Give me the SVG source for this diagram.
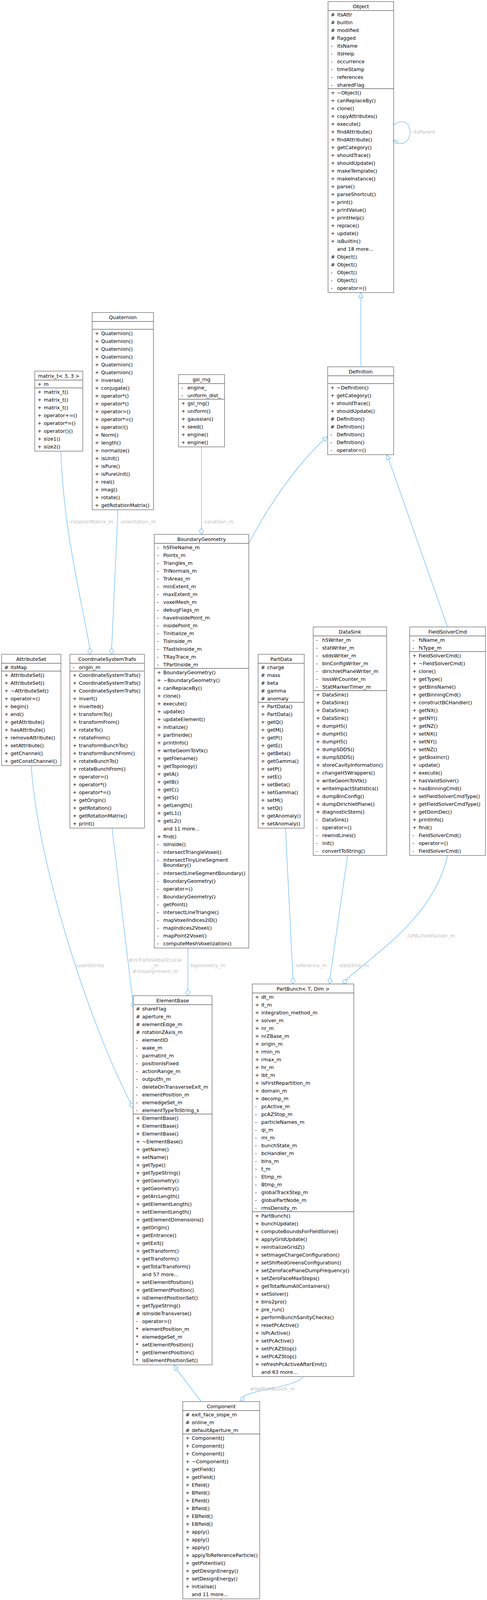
<svg xmlns="http://www.w3.org/2000/svg" width="1247" height="4493" viewBox="0 0 1247 4493">
<style>
.box{fill:#fff;stroke:#666;stroke-width:1.3}
.drift{fill:#999;stroke:#666;stroke-width:1.3}
.sep{stroke:#666;stroke-width:1.3}
text{font-family:"DejaVu Sans","Liberation Sans",sans-serif;font-size:12.7px;fill:#000}
.t{text-anchor:middle}
.edge{fill:none;stroke:#63b8ff;stroke-width:1.3}
.dia{fill:#fff;stroke:#63b8ff;stroke-width:1.3}
.lbl{fill:#c0c0c0}
.lc{fill:#c0c0c0;text-anchor:middle}
</style>
<rect width="1247" height="4493" fill="#fff"/>
<g id="connectors">
<path class="edge" d="M156,1155 C162,1350 205,1520 230,1659"/>
<polygon class="dia" points="230,1675 224.5,1667 230,1659 235.5,1667"/>
<path class="edge" d="M302,1305 L286,1659"/>
<polygon class="dia" points="286,1675 280.5,1667 286,1659 291.5,1667"/>
<path class="edge" d="M516,1145 L516,1352"/>
<polygon class="dia" points="516,1368 510.5,1360 516,1352 521.5,1360"/>
<path class="edge" d="M637,1391 C690,1290 760,1190 829.3,1125.7"/>
<polygon class="dia" points="839,1117 833,1129.8 825.6,1121.6"/>
<path class="edge" d="M1146,1605 L995,1175"/>
<polygon class="dia" points="990,1164 1000.1,1173 990,1177.5"/>
<path class="edge" d="M287,2120 L340.1,2564.1"/>
<polygon class="dia" points="342,2580 346.6,2571.4 340.1,2564.1 335.6,2572.6"/>
<path class="edge" d="M80,1960 C95,2200 220,2600 333.7,2821.8"/>
<polygon class="dia" points="341,2836 342.2,2826.4 333.7,2821.8 332.4,2831.4"/>
<path class="edge" d="M481,2427 L481,2533"/>
<polygon class="dia" points="481,2549 475.5,2541 481,2533 486.5,2541"/>
<path class="edge" d="M731,2120 L750,2503"/>
<polygon class="dia" points="750,2519 744.5,2511 750,2503 755.5,2511"/>
<path class="edge" d="M890,2190 L845,2503"/>
<polygon class="dia" points="844,2519 839.5,2510 845,2503 850.5,2511"/>
<path class="edge" d="M1146,2190 C1110,2350 960,2440 888,2507"/>
<polygon class="dia" points="878,2519 879,2509 888,2507 887.5,2516"/>
<path class="edge" d="M776,3524 C760,3550 660,3555 625,3574"/>
<polygon class="dia" points="616,3588 617.5,3578 625,3574 624.5,3584"/>
<path class="edge" d="M515,3588 L452,3505"/>
<polygon class="dia" points="445,3494 456.9,3501.9 448.2,3508.5"/>
<path class="edge" d="M566,4142 L566,4106"/>
<polygon class="dia" points="566,4093 560.5,4106 571.5,4106"/>
<path class="edge" d="M1008,320 C1035,300 1050,318 1050,338 C1050,358 1035,372 1020,366"/>
<polygon class="dia" points="1008,360 1014,358.5 1020,366 1014,367.5"/>
<text class="lbl" x="1054" y="342">-itsParent</text>
<text class="lbl" x="177" y="1340">-rotationMatrix_m</text>
<text class="lbl" x="306" y="1340">-orientation_m</text>
<text class="lbl" x="520" y="1340">-randGen_m</text>
<text class="lc" x="397" y="2462">#csTrafoGlobal2Local</text>
<text class="lc" x="397" y="2476">_m</text>
<text class="lc" x="397" y="2491">#misalignment_m</text>
<text class="lbl" x="193" y="2476">-userAttribs</text>
<text class="lbl" x="484" y="2476">-bgeometry_m</text>
<text class="lbl" x="753" y="2476">-reference_m</text>
<text class="lbl" x="866" y="2476">-dataSink_m</text>
<text class="lbl" x="1040" y="2400">-OPALFieldSolver_m</text>
<text class="lbl" x="640" y="3560">#RefPartBunch_m</text>
</g>

<g id="Object">
<rect class="box" x="840" y="4" width="168" height="745"/>
<text class="t" x="924" y="20.5">Object</text>
<line class="sep" x1="840" y1="27" x2="1008" y2="27"/>
<line class="sep" x1="840" y1="227" x2="1008" y2="227"/>
<text y="41.5"><tspan x="847">#</tspan><tspan x="863">itsAttr</tspan></text>
<text y="61.5"><tspan x="847">#</tspan><tspan x="863">builtin</tspan></text>
<text y="81.5"><tspan x="847">#</tspan><tspan x="863">modified</tspan></text>
<text y="101.5"><tspan x="847">#</tspan><tspan x="863">flagged</tspan></text>
<text y="121.5"><tspan x="847">-</tspan><tspan x="863">itsName</tspan></text>
<text y="141.5"><tspan x="847">-</tspan><tspan x="863">itsHelp</tspan></text>
<text y="161.5"><tspan x="847">-</tspan><tspan x="863">occurrence</tspan></text>
<text y="181.5"><tspan x="847">-</tspan><tspan x="863">timeStamp</tspan></text>
<text y="201.5"><tspan x="847">-</tspan><tspan x="863">references</tspan></text>
<text y="221.5"><tspan x="847">-</tspan><tspan x="863">sharedFlag</tspan></text>
<text y="241.5"><tspan x="847">+</tspan><tspan x="863">~Object()</tspan></text>
<text y="261.5"><tspan x="847">+</tspan><tspan x="863">canReplaceBy()</tspan></text>
<text y="281.5"><tspan x="847">+</tspan><tspan x="863">clone()</tspan></text>
<text y="301.5"><tspan x="847">+</tspan><tspan x="863">copyAttributes()</tspan></text>
<text y="321.5"><tspan x="847">+</tspan><tspan x="863">execute()</tspan></text>
<text y="341.5"><tspan x="847">+</tspan><tspan x="863">findAttribute()</tspan></text>
<text y="361.5"><tspan x="847">+</tspan><tspan x="863">findAttribute()</tspan></text>
<text y="381.5"><tspan x="847">+</tspan><tspan x="863">getCategory()</tspan></text>
<text y="401.5"><tspan x="847">+</tspan><tspan x="863">shouldTrace()</tspan></text>
<text y="421.5"><tspan x="847">+</tspan><tspan x="863">shouldUpdate()</tspan></text>
<text y="441.5"><tspan x="847">+</tspan><tspan x="863">makeTemplate()</tspan></text>
<text y="461.5"><tspan x="847">+</tspan><tspan x="863">makeInstance()</tspan></text>
<text y="481.5"><tspan x="847">+</tspan><tspan x="863">parse()</tspan></text>
<text y="501.5"><tspan x="847">+</tspan><tspan x="863">parseShortcut()</tspan></text>
<text y="521.5"><tspan x="847">+</tspan><tspan x="863">print()</tspan></text>
<text y="541.5"><tspan x="847">+</tspan><tspan x="863">printValue()</tspan></text>
<text y="561.5"><tspan x="847">+</tspan><tspan x="863">printHelp()</tspan></text>
<text y="581.5"><tspan x="847">+</tspan><tspan x="863">replace()</tspan></text>
<text y="601.5"><tspan x="847">+</tspan><tspan x="863">update()</tspan></text>
<text y="621.5"><tspan x="847">+</tspan><tspan x="863">isBuiltin()</tspan></text>
<text x="863" y="641.5">and 18 more...</text>
<text y="661.5"><tspan x="847">#</tspan><tspan x="863">Object()</tspan></text>
<text y="681.5"><tspan x="847">#</tspan><tspan x="863">Object()</tspan></text>
<text y="701.5"><tspan x="847">-</tspan><tspan x="863">Object()</tspan></text>
<text y="721.5"><tspan x="847">-</tspan><tspan x="863">Object()</tspan></text>
<text y="741.5"><tspan x="847">-</tspan><tspan x="863">operator=()</tspan></text>
</g>

<g id="Definition">
<rect class="box" x="839" y="939" width="169" height="225"/>
<text class="t" x="923.5" y="955.5">Definition</text>
<line class="sep" x1="839" y1="962" x2="1008" y2="962"/>
<line class="sep" x1="839" y1="982" x2="1008" y2="982"/>
<text y="996.5"><tspan x="846">+</tspan><tspan x="862">~Definition()</tspan></text>
<text y="1016.5"><tspan x="846">+</tspan><tspan x="862">getCategory()</tspan></text>
<text y="1036.5"><tspan x="846">+</tspan><tspan x="862">shouldTrace()</tspan></text>
<text y="1056.5"><tspan x="846">+</tspan><tspan x="862">shouldUpdate()</tspan></text>
<text y="1076.5"><tspan x="846">#</tspan><tspan x="862">Definition()</tspan></text>
<text y="1096.5"><tspan x="846">#</tspan><tspan x="862">Definition()</tspan></text>
<text y="1116.5"><tspan x="846">-</tspan><tspan x="862">Definition()</tspan></text>
<text y="1136.5"><tspan x="846">-</tspan><tspan x="862">Definition()</tspan></text>
<text y="1156.5"><tspan x="846">-</tspan><tspan x="862">operator=()</tspan></text>
</g>
<path class="edge" d="M924,939 L924,762"/>
<polygon class="dia" points="924,749 918.5,762 929.5,762"/>

<g id="matrix_t">
<rect class="box" x="89" y="950" width="123" height="205"/>
<text class="t" x="150.5" y="966.5">matrix_t&lt; 3, 3 &gt;</text>
<line class="sep" x1="89" y1="973" x2="212" y2="973"/>
<line class="sep" x1="89" y1="993" x2="212" y2="993"/>
<text y="987.5"><tspan x="96">+</tspan><tspan x="112">m</tspan></text>
<text y="1007.5"><tspan x="96">+</tspan><tspan x="112">matrix_t()</tspan></text>
<text y="1027.5"><tspan x="96">+</tspan><tspan x="112">matrix_t()</tspan></text>
<text y="1047.5"><tspan x="96">+</tspan><tspan x="112">matrix_t()</tspan></text>
<text y="1067.5"><tspan x="96">+</tspan><tspan x="112">operator+=()</tspan></text>
<text y="1087.5"><tspan x="96">+</tspan><tspan x="112">operator*=()</tspan></text>
<text y="1107.5"><tspan x="96">+</tspan><tspan x="112">operator()()</tspan></text>
<text y="1127.5"><tspan x="96">+</tspan><tspan x="112">size1()</tspan></text>
<text y="1147.5"><tspan x="96">+</tspan><tspan x="112">size2()</tspan></text>
</g>

<g id="Quaternion">
<rect class="box" x="236" y="800" width="157" height="505"/>
<text class="t" x="314.5" y="816.5">Quaternion</text>
<line class="sep" x1="236" y1="823" x2="393" y2="823"/>
<line class="sep" x1="236" y1="843" x2="393" y2="843"/>
<text y="857.5"><tspan x="243">+</tspan><tspan x="259">Quaternion()</tspan></text>
<text y="877.5"><tspan x="243">+</tspan><tspan x="259">Quaternion()</tspan></text>
<text y="897.5"><tspan x="243">+</tspan><tspan x="259">Quaternion()</tspan></text>
<text y="917.5"><tspan x="243">+</tspan><tspan x="259">Quaternion()</tspan></text>
<text y="937.5"><tspan x="243">+</tspan><tspan x="259">Quaternion()</tspan></text>
<text y="957.5"><tspan x="243">+</tspan><tspan x="259">Quaternion()</tspan></text>
<text y="977.5"><tspan x="243">+</tspan><tspan x="259">inverse()</tspan></text>
<text y="997.5"><tspan x="243">+</tspan><tspan x="259">conjugate()</tspan></text>
<text y="1017.5"><tspan x="243">+</tspan><tspan x="259">operator*()</tspan></text>
<text y="1037.5"><tspan x="243">+</tspan><tspan x="259">operator*()</tspan></text>
<text y="1057.5"><tspan x="243">+</tspan><tspan x="259">operator=()</tspan></text>
<text y="1077.5"><tspan x="243">+</tspan><tspan x="259">operator*=()</tspan></text>
<text y="1097.5"><tspan x="243">+</tspan><tspan x="259">operator/()</tspan></text>
<text y="1117.5"><tspan x="243">+</tspan><tspan x="259">Norm()</tspan></text>
<text y="1137.5"><tspan x="243">+</tspan><tspan x="259">length()</tspan></text>
<text y="1157.5"><tspan x="243">+</tspan><tspan x="259">normalize()</tspan></text>
<text y="1177.5"><tspan x="243">+</tspan><tspan x="259">isUnit()</tspan></text>
<text y="1197.5"><tspan x="243">+</tspan><tspan x="259">isPure()</tspan></text>
<text y="1217.5"><tspan x="243">+</tspan><tspan x="259">isPureUnit()</tspan></text>
<text y="1237.5"><tspan x="243">+</tspan><tspan x="259">real()</tspan></text>
<text y="1257.5"><tspan x="243">+</tspan><tspan x="259">imag()</tspan></text>
<text y="1277.5"><tspan x="243">+</tspan><tspan x="259">rotate()</tspan></text>
<text y="1297.5"><tspan x="243">+</tspan><tspan x="259">getRotationMatrix()</tspan></text>
</g>

<g id="gsl_rng">
<rect class="box" x="457" y="959" width="118" height="185"/>
<text class="t" x="516" y="975.5">gsl_rng</text>
<line class="sep" x1="457" y1="982" x2="575" y2="982"/>
<line class="sep" x1="457" y1="1022" x2="575" y2="1022"/>
<text y="996.5"><tspan x="464">-</tspan><tspan x="480">engine_</tspan></text>
<text y="1016.5"><tspan x="464">-</tspan><tspan x="480">uniform_dist_</tspan></text>
<text y="1036.5"><tspan x="464">+</tspan><tspan x="480">gsl_rng()</tspan></text>
<text y="1056.5"><tspan x="464">+</tspan><tspan x="480">uniform()</tspan></text>
<text y="1076.5"><tspan x="464">+</tspan><tspan x="480">gaussian()</tspan></text>
<text y="1096.5"><tspan x="464">+</tspan><tspan x="480">seed()</tspan></text>
<text y="1116.5"><tspan x="464">+</tspan><tspan x="480">engine()</tspan></text>
<text y="1136.5"><tspan x="464">+</tspan><tspan x="480">engine()</tspan></text>
</g>

<g id="BoundaryGeometry">
<rect class="box" x="395" y="1368" width="242" height="1059"/>
<text class="t" x="516" y="1384.5">BoundaryGeometry</text>
<line class="sep" x1="395" y1="1391" x2="637" y2="1391"/>
<line class="sep" x1="395" y1="1711" x2="637" y2="1711"/>
<text y="1405.5"><tspan x="402">-</tspan><tspan x="418">h5FileName_m</tspan></text>
<text y="1425.5"><tspan x="402">-</tspan><tspan x="418">Points_m</tspan></text>
<text y="1445.5"><tspan x="402">-</tspan><tspan x="418">Triangles_m</tspan></text>
<text y="1465.5"><tspan x="402">-</tspan><tspan x="418">TriNormals_m</tspan></text>
<text y="1485.5"><tspan x="402">-</tspan><tspan x="418">TriAreas_m</tspan></text>
<text y="1505.5"><tspan x="402">-</tspan><tspan x="418">minExtent_m</tspan></text>
<text y="1525.5"><tspan x="402">-</tspan><tspan x="418">maxExtent_m</tspan></text>
<text y="1545.5"><tspan x="402">-</tspan><tspan x="418">voxelMesh_m</tspan></text>
<text y="1565.5"><tspan x="402">-</tspan><tspan x="418">debugFlags_m</tspan></text>
<text y="1585.5"><tspan x="402">-</tspan><tspan x="418">haveInsidePoint_m</tspan></text>
<text y="1605.5"><tspan x="402">-</tspan><tspan x="418">insidePoint_m</tspan></text>
<text y="1625.5"><tspan x="402">-</tspan><tspan x="418">Tinitialize_m</tspan></text>
<text y="1645.5"><tspan x="402">-</tspan><tspan x="418">TisInside_m</tspan></text>
<text y="1665.5"><tspan x="402">-</tspan><tspan x="418">TfastIsInside_m</tspan></text>
<text y="1685.5"><tspan x="402">-</tspan><tspan x="418">TRayTrace_m</tspan></text>
<text y="1705.5"><tspan x="402">-</tspan><tspan x="418">TPartInside_m</tspan></text>
<text y="1725.5"><tspan x="402">+</tspan><tspan x="418">BoundaryGeometry()</tspan></text>
<text y="1745.5"><tspan x="402">+</tspan><tspan x="418">~BoundaryGeometry()</tspan></text>
<text y="1765.5"><tspan x="402">+</tspan><tspan x="418">canReplaceBy()</tspan></text>
<text y="1785.5"><tspan x="402">+</tspan><tspan x="418">clone()</tspan></text>
<text y="1805.5"><tspan x="402">+</tspan><tspan x="418">execute()</tspan></text>
<text y="1825.5"><tspan x="402">+</tspan><tspan x="418">update()</tspan></text>
<text y="1845.5"><tspan x="402">+</tspan><tspan x="418">updateElement()</tspan></text>
<text y="1865.5"><tspan x="402">+</tspan><tspan x="418">initialize()</tspan></text>
<text y="1885.5"><tspan x="402">+</tspan><tspan x="418">partInside()</tspan></text>
<text y="1905.5"><tspan x="402">+</tspan><tspan x="418">printInfo()</tspan></text>
<text y="1925.5"><tspan x="402">+</tspan><tspan x="418">writeGeomToVtk()</tspan></text>
<text y="1945.5"><tspan x="402">+</tspan><tspan x="418">getFilename()</tspan></text>
<text y="1965.5"><tspan x="402">+</tspan><tspan x="418">getTopology()</tspan></text>
<text y="1985.5"><tspan x="402">+</tspan><tspan x="418">getA()</tspan></text>
<text y="2005.5"><tspan x="402">+</tspan><tspan x="418">getB()</tspan></text>
<text y="2025.5"><tspan x="402">+</tspan><tspan x="418">getC()</tspan></text>
<text y="2045.5"><tspan x="402">+</tspan><tspan x="418">getS()</tspan></text>
<text y="2065.5"><tspan x="402">+</tspan><tspan x="418">getLength()</tspan></text>
<text y="2085.5"><tspan x="402">+</tspan><tspan x="418">getL1()</tspan></text>
<text y="2105.5"><tspan x="402">+</tspan><tspan x="418">getL2()</tspan></text>
<text x="418" y="2125.5">and 11 more...</text>
<text y="2145.5"><tspan x="402">+</tspan><tspan x="418">find()</tspan></text>
<text y="2165.5"><tspan x="402">-</tspan><tspan x="418">isInside()</tspan></text>
<text y="2185.5"><tspan x="402">-</tspan><tspan x="418">intersectTriangleVoxel()</tspan></text>
<text y="2205.5"><tspan x="402">-</tspan><tspan x="418">intersectTinyLineSegment</tspan></text>
<text x="418" y="2219">Boundary()</text>
<text y="2239.5"><tspan x="402">-</tspan><tspan x="418">intersectLineSegmentBoundary()</tspan></text>
<text y="2259.5"><tspan x="402">-</tspan><tspan x="418">BoundaryGeometry()</tspan></text>
<text y="2279.5"><tspan x="402">-</tspan><tspan x="418">operator=()</tspan></text>
<text y="2299.5"><tspan x="402">-</tspan><tspan x="418">BoundaryGeometry()</tspan></text>
<text y="2319.5"><tspan x="402">-</tspan><tspan x="418">getPoint()</tspan></text>
<text y="2339.5"><tspan x="402">-</tspan><tspan x="418">intersectLineTriangle()</tspan></text>
<text y="2359.5"><tspan x="402">-</tspan><tspan x="418">mapVoxelIndices2ID()</tspan></text>
<text y="2379.5"><tspan x="402">-</tspan><tspan x="418">mapIndices2Voxel()</tspan></text>
<text y="2399.5"><tspan x="402">-</tspan><tspan x="418">mapPoint2Voxel()</tspan></text>
<text y="2419.5"><tspan x="402">-</tspan><tspan x="418">computeMeshVoxelization()</tspan></text>
</g>

<g id="AttributeSet">
<rect class="box" x="4" y="1675" width="152" height="285"/>
<text class="t" x="80" y="1691.5">AttributeSet</text>
<line class="sep" x1="4" y1="1698" x2="156" y2="1698"/>
<line class="sep" x1="4" y1="1718" x2="156" y2="1718"/>
<text y="1712.5"><tspan x="11">#</tspan><tspan x="27">itsMap</tspan></text>
<text y="1732.5"><tspan x="11">+</tspan><tspan x="27">AttributeSet()</tspan></text>
<text y="1752.5"><tspan x="11">+</tspan><tspan x="27">AttributeSet()</tspan></text>
<text y="1772.5"><tspan x="11">+</tspan><tspan x="27">~AttributeSet()</tspan></text>
<text y="1792.5"><tspan x="11">+</tspan><tspan x="27">operator=()</tspan></text>
<text y="1812.5"><tspan x="11">+</tspan><tspan x="27">begin()</tspan></text>
<text y="1832.5"><tspan x="11">+</tspan><tspan x="27">end()</tspan></text>
<text y="1852.5"><tspan x="11">+</tspan><tspan x="27">getAttribute()</tspan></text>
<text y="1872.5"><tspan x="11">+</tspan><tspan x="27">hasAttribute()</tspan></text>
<text y="1892.5"><tspan x="11">+</tspan><tspan x="27">removeAttribute()</tspan></text>
<text y="1912.5"><tspan x="11">+</tspan><tspan x="27">setAttribute()</tspan></text>
<text y="1932.5"><tspan x="11">+</tspan><tspan x="27">getChannel()</tspan></text>
<text y="1952.5"><tspan x="11">+</tspan><tspan x="27">getConstChannel()</tspan></text>
</g>

<g id="CoordinateSystemTrafo">
<rect class="box" x="179" y="1675" width="191" height="445"/>
<text class="t" x="274.5" y="1691.5">CoordinateSystemTrafo</text>
<line class="sep" x1="179" y1="1698" x2="370" y2="1698"/>
<line class="sep" x1="179" y1="1718" x2="370" y2="1718"/>
<text y="1712.5"><tspan x="186">-</tspan><tspan x="202">origin_m</tspan></text>
<text y="1732.5"><tspan x="186">+</tspan><tspan x="202">CoordinateSystemTrafo()</tspan></text>
<text y="1752.5"><tspan x="186">+</tspan><tspan x="202">CoordinateSystemTrafo()</tspan></text>
<text y="1772.5"><tspan x="186">+</tspan><tspan x="202">CoordinateSystemTrafo()</tspan></text>
<text y="1792.5"><tspan x="186">+</tspan><tspan x="202">invert()</tspan></text>
<text y="1812.5"><tspan x="186">+</tspan><tspan x="202">inverted()</tspan></text>
<text y="1832.5"><tspan x="186">+</tspan><tspan x="202">transformTo()</tspan></text>
<text y="1852.5"><tspan x="186">+</tspan><tspan x="202">transformFrom()</tspan></text>
<text y="1872.5"><tspan x="186">+</tspan><tspan x="202">rotateTo()</tspan></text>
<text y="1892.5"><tspan x="186">+</tspan><tspan x="202">rotateFrom()</tspan></text>
<text y="1912.5"><tspan x="186">+</tspan><tspan x="202">transformBunchTo()</tspan></text>
<text y="1932.5"><tspan x="186">+</tspan><tspan x="202">transformBunchFrom()</tspan></text>
<text y="1952.5"><tspan x="186">+</tspan><tspan x="202">rotateBunchTo()</tspan></text>
<text y="1972.5"><tspan x="186">+</tspan><tspan x="202">rotateBunchFrom()</tspan></text>
<text y="1992.5"><tspan x="186">+</tspan><tspan x="202">operator=()</tspan></text>
<text y="2012.5"><tspan x="186">+</tspan><tspan x="202">operator*()</tspan></text>
<text y="2032.5"><tspan x="186">+</tspan><tspan x="202">operator*=()</tspan></text>
<text y="2052.5"><tspan x="186">+</tspan><tspan x="202">getOrigin()</tspan></text>
<text y="2072.5"><tspan x="186">+</tspan><tspan x="202">getRotation()</tspan></text>
<text y="2092.5"><tspan x="186">+</tspan><tspan x="202">getRotationMatrix()</tspan></text>
<text y="2112.5"><tspan x="186">+</tspan><tspan x="202">print()</tspan></text>
</g>

<g id="PartData">
<rect class="box" x="661" y="1675" width="118" height="445"/>
<text class="t" x="720" y="1691.5">PartData</text>
<line class="sep" x1="661" y1="1698" x2="779" y2="1698"/>
<line class="sep" x1="661" y1="1798" x2="779" y2="1798"/>
<text y="1712.5"><tspan x="668">#</tspan><tspan x="684">charge</tspan></text>
<text y="1732.5"><tspan x="668">#</tspan><tspan x="684">mass</tspan></text>
<text y="1752.5"><tspan x="668">#</tspan><tspan x="684">beta</tspan></text>
<text y="1772.5"><tspan x="668">#</tspan><tspan x="684">gamma</tspan></text>
<text y="1792.5"><tspan x="668">#</tspan><tspan x="684">anomaly</tspan></text>
<text y="1812.5"><tspan x="668">+</tspan><tspan x="684">PartData()</tspan></text>
<text y="1832.5"><tspan x="668">+</tspan><tspan x="684">PartData()</tspan></text>
<text y="1852.5"><tspan x="668">+</tspan><tspan x="684">getQ()</tspan></text>
<text y="1872.5"><tspan x="668">+</tspan><tspan x="684">getM()</tspan></text>
<text y="1892.5"><tspan x="668">+</tspan><tspan x="684">getP()</tspan></text>
<text y="1912.5"><tspan x="668">+</tspan><tspan x="684">getE()</tspan></text>
<text y="1932.5"><tspan x="668">+</tspan><tspan x="684">getBeta()</tspan></text>
<text y="1952.5"><tspan x="668">+</tspan><tspan x="684">getGamma()</tspan></text>
<text y="1972.5"><tspan x="668">+</tspan><tspan x="684">setP()</tspan></text>
<text y="1992.5"><tspan x="668">+</tspan><tspan x="684">setE()</tspan></text>
<text y="2012.5"><tspan x="668">+</tspan><tspan x="684">setBeta()</tspan></text>
<text y="2032.5"><tspan x="668">+</tspan><tspan x="684">setGamma()</tspan></text>
<text y="2052.5"><tspan x="668">+</tspan><tspan x="684">setM()</tspan></text>
<text y="2072.5"><tspan x="668">+</tspan><tspan x="684">setQ()</tspan></text>
<text y="2092.5"><tspan x="668">+</tspan><tspan x="684">getAnomaly()</tspan></text>
<text y="2112.5"><tspan x="668">+</tspan><tspan x="684">setAnomaly()</tspan></text>
</g>

<g id="DataSink">
<rect class="box" x="802" y="1605" width="188" height="585"/>
<text class="t" x="896" y="1621.5">DataSink</text>
<line class="sep" x1="802" y1="1628" x2="990" y2="1628"/>
<line class="sep" x1="802" y1="1768" x2="990" y2="1768"/>
<text y="1642.5"><tspan x="809">-</tspan><tspan x="825">h5Writer_m</tspan></text>
<text y="1662.5"><tspan x="809">-</tspan><tspan x="825">statWriter_m</tspan></text>
<text y="1682.5"><tspan x="809">-</tspan><tspan x="825">sddsWriter_m</tspan></text>
<text y="1702.5"><tspan x="809">-</tspan><tspan x="825">binConfigWriter_m</tspan></text>
<text y="1722.5"><tspan x="809">-</tspan><tspan x="825">dirichletPlaneWriter_m</tspan></text>
<text y="1742.5"><tspan x="809">-</tspan><tspan x="825">lossWrCounter_m</tspan></text>
<text y="1762.5"><tspan x="809">-</tspan><tspan x="825">StatMarkerTimer_m</tspan></text>
<text y="1782.5"><tspan x="809">+</tspan><tspan x="825">DataSink()</tspan></text>
<text y="1802.5"><tspan x="809">+</tspan><tspan x="825">DataSink()</tspan></text>
<text y="1822.5"><tspan x="809">+</tspan><tspan x="825">DataSink()</tspan></text>
<text y="1842.5"><tspan x="809">+</tspan><tspan x="825">DataSink()</tspan></text>
<text y="1862.5"><tspan x="809">+</tspan><tspan x="825">dumpH5()</tspan></text>
<text y="1882.5"><tspan x="809">+</tspan><tspan x="825">dumpH5()</tspan></text>
<text y="1902.5"><tspan x="809">+</tspan><tspan x="825">dumpH5()</tspan></text>
<text y="1922.5"><tspan x="809">+</tspan><tspan x="825">dumpSDDS()</tspan></text>
<text y="1942.5"><tspan x="809">+</tspan><tspan x="825">dumpSDDS()</tspan></text>
<text y="1962.5"><tspan x="809">+</tspan><tspan x="825">storeCavityInformation()</tspan></text>
<text y="1982.5"><tspan x="809">+</tspan><tspan x="825">changeH5Wrappers()</tspan></text>
<text y="2002.5"><tspan x="809">+</tspan><tspan x="825">writeGeomToVtk()</tspan></text>
<text y="2022.5"><tspan x="809">+</tspan><tspan x="825">writeImpactStatistics()</tspan></text>
<text y="2042.5"><tspan x="809">+</tspan><tspan x="825">dumpBinConfig()</tspan></text>
<text y="2062.5"><tspan x="809">+</tspan><tspan x="825">dumpDirichletPlane()</tspan></text>
<text y="2082.5"><tspan x="809">+</tspan><tspan x="825">diagnosticStem()</tspan></text>
<text y="2102.5"><tspan x="809">-</tspan><tspan x="825">DataSink()</tspan></text>
<text y="2122.5"><tspan x="809">-</tspan><tspan x="825">operator=()</tspan></text>
<text y="2142.5"><tspan x="809">-</tspan><tspan x="825">rewindLines()</tspan></text>
<text y="2162.5"><tspan x="809">-</tspan><tspan x="825">init()</tspan></text>
<text y="2182.5"><tspan x="809">-</tspan><tspan x="825">convertToString()</tspan></text>
</g>

<g id="FieldSolverCmd">
<rect class="box" x="1049" y="1605" width="194" height="585"/>
<text class="t" x="1146" y="1621.5">FieldSolverCmd</text>
<line class="sep" x1="1049" y1="1628" x2="1243" y2="1628"/>
<line class="sep" x1="1049" y1="1668" x2="1243" y2="1668"/>
<text y="1642.5"><tspan x="1056">-</tspan><tspan x="1072">fsName_m</tspan></text>
<text y="1662.5"><tspan x="1056">-</tspan><tspan x="1072">fsType_m</tspan></text>
<text y="1682.5"><tspan x="1056">+</tspan><tspan x="1072">FieldSolverCmd()</tspan></text>
<text y="1702.5"><tspan x="1056">+</tspan><tspan x="1072">~FieldSolverCmd()</tspan></text>
<text y="1722.5"><tspan x="1056">+</tspan><tspan x="1072">clone()</tspan></text>
<text y="1742.5"><tspan x="1056">+</tspan><tspan x="1072">getType()</tspan></text>
<text y="1762.5"><tspan x="1056">+</tspan><tspan x="1072">getBinsName()</tspan></text>
<text y="1782.5"><tspan x="1056">+</tspan><tspan x="1072">getBinningCmd()</tspan></text>
<text y="1802.5"><tspan x="1056">+</tspan><tspan x="1072">constructBCHandler()</tspan></text>
<text y="1822.5"><tspan x="1056">+</tspan><tspan x="1072">getNX()</tspan></text>
<text y="1842.5"><tspan x="1056">+</tspan><tspan x="1072">getNY()</tspan></text>
<text y="1862.5"><tspan x="1056">+</tspan><tspan x="1072">getNZ()</tspan></text>
<text y="1882.5"><tspan x="1056">+</tspan><tspan x="1072">setNX()</tspan></text>
<text y="1902.5"><tspan x="1056">+</tspan><tspan x="1072">setNY()</tspan></text>
<text y="1922.5"><tspan x="1056">+</tspan><tspan x="1072">setNZ()</tspan></text>
<text y="1942.5"><tspan x="1056">+</tspan><tspan x="1072">getBoxIncr()</tspan></text>
<text y="1962.5"><tspan x="1056">+</tspan><tspan x="1072">update()</tspan></text>
<text y="1982.5"><tspan x="1056">+</tspan><tspan x="1072">execute()</tspan></text>
<text y="2002.5"><tspan x="1056">+</tspan><tspan x="1072">hasValidSolver()</tspan></text>
<text y="2022.5"><tspan x="1056">+</tspan><tspan x="1072">hasBinningCmd()</tspan></text>
<text y="2042.5"><tspan x="1056">+</tspan><tspan x="1072">setFieldSolverCmdType()</tspan></text>
<text y="2062.5"><tspan x="1056">+</tspan><tspan x="1072">getFieldSolverCmdType()</tspan></text>
<text y="2082.5"><tspan x="1056">+</tspan><tspan x="1072">getDomDec()</tspan></text>
<text y="2102.5"><tspan x="1056">+</tspan><tspan x="1072">printInfo()</tspan></text>
<text y="2122.5"><tspan x="1056">+</tspan><tspan x="1072">find()</tspan></text>
<text y="2142.5"><tspan x="1056">-</tspan><tspan x="1072">FieldSolverCmd()</tspan></text>
<text y="2162.5"><tspan x="1056">-</tspan><tspan x="1072">operator=()</tspan></text>
<text y="2182.5"><tspan x="1056">-</tspan><tspan x="1072">FieldSolverCmd()</tspan></text>
</g>

<g id="ElementBase">
<rect class="box" x="341" y="2549" width="202" height="945"/>
<text class="t" x="442" y="2565.5">ElementBase</text>
<line class="sep" x1="341" y1="2572" x2="543" y2="2572"/>
<line class="sep" x1="341" y1="2852" x2="543" y2="2852"/>
<text y="2586.5"><tspan x="348">#</tspan><tspan x="364">shareFlag</tspan></text>
<text y="2606.5"><tspan x="348">#</tspan><tspan x="364">aperture_m</tspan></text>
<text y="2626.5"><tspan x="348">#</tspan><tspan x="364">elementEdge_m</tspan></text>
<text y="2646.5"><tspan x="348">#</tspan><tspan x="364">rotationZAxis_m</tspan></text>
<text y="2666.5"><tspan x="348">-</tspan><tspan x="364">elementID</tspan></text>
<text y="2686.5"><tspan x="348">-</tspan><tspan x="364">wake_m</tspan></text>
<text y="2706.5"><tspan x="348">-</tspan><tspan x="364">parmatint_m</tspan></text>
<text y="2726.5"><tspan x="348">-</tspan><tspan x="364">positionIsFixed</tspan></text>
<text y="2746.5"><tspan x="348">-</tspan><tspan x="364">actionRange_m</tspan></text>
<text y="2766.5"><tspan x="348">-</tspan><tspan x="364">outputfn_m</tspan></text>
<text y="2786.5"><tspan x="348">-</tspan><tspan x="364">deleteOnTransverseExit_m</tspan></text>
<text y="2806.5"><tspan x="348">-</tspan><tspan x="364">elementPosition_m</tspan></text>
<text y="2826.5"><tspan x="348">-</tspan><tspan x="364">elemedgeSet_m</tspan></text>
<text y="2846.5"><tspan x="348">-</tspan><tspan x="364">elementTypeToString_s</tspan></text>
<text y="2866.5"><tspan x="348">+</tspan><tspan x="364">ElementBase()</tspan></text>
<text y="2886.5"><tspan x="348">+</tspan><tspan x="364">ElementBase()</tspan></text>
<text y="2906.5"><tspan x="348">+</tspan><tspan x="364">ElementBase()</tspan></text>
<text y="2926.5"><tspan x="348">+</tspan><tspan x="364">~ElementBase()</tspan></text>
<text y="2946.5"><tspan x="348">+</tspan><tspan x="364">getName()</tspan></text>
<text y="2966.5"><tspan x="348">+</tspan><tspan x="364">setName()</tspan></text>
<text y="2986.5"><tspan x="348">+</tspan><tspan x="364">getType()</tspan></text>
<text y="3006.5"><tspan x="348">+</tspan><tspan x="364">getTypeString()</tspan></text>
<text y="3026.5"><tspan x="348">+</tspan><tspan x="364">getGeometry()</tspan></text>
<text y="3046.5"><tspan x="348">+</tspan><tspan x="364">getGeometry()</tspan></text>
<text y="3066.5"><tspan x="348">+</tspan><tspan x="364">getArcLength()</tspan></text>
<text y="3086.5"><tspan x="348">+</tspan><tspan x="364">getElementLength()</tspan></text>
<text y="3106.5"><tspan x="348">+</tspan><tspan x="364">setElementLength()</tspan></text>
<text y="3126.5"><tspan x="348">+</tspan><tspan x="364">getElementDimensions()</tspan></text>
<text y="3146.5"><tspan x="348">+</tspan><tspan x="364">getOrigin()</tspan></text>
<text y="3166.5"><tspan x="348">+</tspan><tspan x="364">getEntrance()</tspan></text>
<text y="3186.5"><tspan x="348">+</tspan><tspan x="364">getExit()</tspan></text>
<text y="3206.5"><tspan x="348">+</tspan><tspan x="364">getTransform()</tspan></text>
<text y="3226.5"><tspan x="348">+</tspan><tspan x="364">getTransform()</tspan></text>
<text y="3246.5"><tspan x="348">+</tspan><tspan x="364">getTotalTransform()</tspan></text>
<text x="364" y="3266.5">and 57 more...</text>
<text y="3286.5"><tspan x="348">+</tspan><tspan x="364">setElementPosition()</tspan></text>
<text y="3306.5"><tspan x="348">+</tspan><tspan x="364">getElementPosition()</tspan></text>
<text y="3326.5"><tspan x="348">+</tspan><tspan x="364">isElementPositionSet()</tspan></text>
<text y="3346.5"><tspan x="348">+</tspan><tspan x="364">getTypeString()</tspan></text>
<text y="3366.5"><tspan x="348">#</tspan><tspan x="364">isInsideTransverse()</tspan></text>
<text y="3386.5"><tspan x="348">-</tspan><tspan x="364">operator=()</tspan></text>
<text y="3406.5"><tspan x="348">*</tspan><tspan x="364">elementPosition_m</tspan></text>
<text y="3426.5"><tspan x="348">*</tspan><tspan x="364">elemedgeSet_m</tspan></text>
<text y="3446.5"><tspan x="348">*</tspan><tspan x="364">setElementPosition()</tspan></text>
<text y="3466.5"><tspan x="348">*</tspan><tspan x="364">getElementPosition()</tspan></text>
<text y="3486.5"><tspan x="348">*</tspan><tspan x="364">isElementPositionSet()</tspan></text>
</g>

<g id="PartBunch">
<rect class="box" x="646" y="2519" width="260" height="1005"/>
<text class="t" x="776" y="2535.5">PartBunch&lt; T, Dim &gt;</text>
<line class="sep" x1="646" y1="2542" x2="906" y2="2542"/>
<line class="sep" x1="646" y1="3102" x2="906" y2="3102"/>
<text y="2556.5"><tspan x="653">+</tspan><tspan x="669">dt_m</tspan></text>
<text y="2576.5"><tspan x="653">+</tspan><tspan x="669">it_m</tspan></text>
<text y="2596.5"><tspan x="653">+</tspan><tspan x="669">integration_method_m</tspan></text>
<text y="2616.5"><tspan x="653">+</tspan><tspan x="669">solver_m</tspan></text>
<text y="2636.5"><tspan x="653">+</tspan><tspan x="669">nr_m</tspan></text>
<text y="2656.5"><tspan x="653">+</tspan><tspan x="669">nrZBase_m</tspan></text>
<text y="2676.5"><tspan x="653">+</tspan><tspan x="669">origin_m</tspan></text>
<text y="2696.5"><tspan x="653">+</tspan><tspan x="669">rmin_m</tspan></text>
<text y="2716.5"><tspan x="653">+</tspan><tspan x="669">rmax_m</tspan></text>
<text y="2736.5"><tspan x="653">+</tspan><tspan x="669">hr_m</tspan></text>
<text y="2756.5"><tspan x="653">+</tspan><tspan x="669">lbt_m</tspan></text>
<text y="2776.5"><tspan x="653">+</tspan><tspan x="669">isFirstRepartition_m</tspan></text>
<text y="2796.5"><tspan x="653">+</tspan><tspan x="669">domain_m</tspan></text>
<text y="2816.5"><tspan x="653">+</tspan><tspan x="669">decomp_m</tspan></text>
<text y="2836.5"><tspan x="653">-</tspan><tspan x="669">pcActive_m</tspan></text>
<text y="2856.5"><tspan x="653">-</tspan><tspan x="669">pcAZStop_m</tspan></text>
<text y="2876.5"><tspan x="653">-</tspan><tspan x="669">particleNames_m</tspan></text>
<text y="2896.5"><tspan x="653">-</tspan><tspan x="669">qi_m</tspan></text>
<text y="2916.5"><tspan x="653">-</tspan><tspan x="669">mi_m</tspan></text>
<text y="2936.5"><tspan x="653">-</tspan><tspan x="669">bunchState_m</tspan></text>
<text y="2956.5"><tspan x="653">-</tspan><tspan x="669">bcHandler_m</tspan></text>
<text y="2976.5"><tspan x="653">-</tspan><tspan x="669">bins_m</tspan></text>
<text y="2996.5"><tspan x="653">-</tspan><tspan x="669">t_m</tspan></text>
<text y="3016.5"><tspan x="653">-</tspan><tspan x="669">Etmp_m</tspan></text>
<text y="3036.5"><tspan x="653">-</tspan><tspan x="669">Btmp_m</tspan></text>
<text y="3056.5"><tspan x="653">-</tspan><tspan x="669">globalTrackStep_m</tspan></text>
<text y="3076.5"><tspan x="653">-</tspan><tspan x="669">globalPartNode_m</tspan></text>
<text y="3096.5"><tspan x="653">-</tspan><tspan x="669">rmsDensity_m</tspan></text>
<text y="3116.5"><tspan x="653">+</tspan><tspan x="669">PartBunch()</tspan></text>
<text y="3136.5"><tspan x="653">+</tspan><tspan x="669">bunchUpdate()</tspan></text>
<text y="3156.5"><tspan x="653">+</tspan><tspan x="669">computeBoundsForFieldSolve()</tspan></text>
<text y="3176.5"><tspan x="653">+</tspan><tspan x="669">applyGridUpdate()</tspan></text>
<text y="3196.5"><tspan x="653">+</tspan><tspan x="669">reinitializeGridZ()</tspan></text>
<text y="3216.5"><tspan x="653">+</tspan><tspan x="669">setImageChargeConfiguration()</tspan></text>
<text y="3236.5"><tspan x="653">+</tspan><tspan x="669">setShiftedGreensConfiguration()</tspan></text>
<text y="3256.5"><tspan x="653">+</tspan><tspan x="669">setZeroFacePlaneDumpFrequency()</tspan></text>
<text y="3276.5"><tspan x="653">+</tspan><tspan x="669">setZeroFaceMaxSteps()</tspan></text>
<text y="3296.5"><tspan x="653">+</tspan><tspan x="669">getTotalNumAllContainers()</tspan></text>
<text y="3316.5"><tspan x="653">+</tspan><tspan x="669">setSolver()</tspan></text>
<text y="3336.5"><tspan x="653">+</tspan><tspan x="669">bins2pro()</tspan></text>
<text y="3356.5"><tspan x="653">+</tspan><tspan x="669">pre_run()</tspan></text>
<text y="3376.5"><tspan x="653">+</tspan><tspan x="669">performBunchSanityChecks()</tspan></text>
<text y="3396.5"><tspan x="653">+</tspan><tspan x="669">resetPcActive()</tspan></text>
<text y="3416.5"><tspan x="653">+</tspan><tspan x="669">isPcActive()</tspan></text>
<text y="3436.5"><tspan x="653">+</tspan><tspan x="669">setPcActive()</tspan></text>
<text y="3456.5"><tspan x="653">+</tspan><tspan x="669">setPcAZStop()</tspan></text>
<text y="3476.5"><tspan x="653">+</tspan><tspan x="669">setPcAZStop()</tspan></text>
<text y="3496.5"><tspan x="653">+</tspan><tspan x="669">refreshPcActiveAfterEmit()</tspan></text>
<text x="669" y="3516.5">and 63 more...</text>
</g>

<g id="Component">
<rect class="box" x="468" y="3588" width="197" height="505"/>
<text class="t" x="566.5" y="3604.5">Component</text>
<line class="sep" x1="468" y1="3611" x2="665" y2="3611"/>
<line class="sep" x1="468" y1="3671" x2="665" y2="3671"/>
<text y="3625.5"><tspan x="475">#</tspan><tspan x="491">exit_face_slope_m</tspan></text>
<text y="3645.5"><tspan x="475">#</tspan><tspan x="491">online_m</tspan></text>
<text y="3665.5"><tspan x="475">#</tspan><tspan x="491">defaultAperture_m</tspan></text>
<text y="3685.5"><tspan x="475">+</tspan><tspan x="491">Component()</tspan></text>
<text y="3705.5"><tspan x="475">+</tspan><tspan x="491">Component()</tspan></text>
<text y="3725.5"><tspan x="475">+</tspan><tspan x="491">Component()</tspan></text>
<text y="3745.5"><tspan x="475">+</tspan><tspan x="491">~Component()</tspan></text>
<text y="3765.5"><tspan x="475">+</tspan><tspan x="491">getField()</tspan></text>
<text y="3785.5"><tspan x="475">+</tspan><tspan x="491">getField()</tspan></text>
<text y="3805.5"><tspan x="475">+</tspan><tspan x="491">Efield()</tspan></text>
<text y="3825.5"><tspan x="475">+</tspan><tspan x="491">Bfield()</tspan></text>
<text y="3845.5"><tspan x="475">+</tspan><tspan x="491">Efield()</tspan></text>
<text y="3865.5"><tspan x="475">+</tspan><tspan x="491">Bfield()</tspan></text>
<text y="3885.5"><tspan x="475">+</tspan><tspan x="491">EBfield()</tspan></text>
<text y="3905.5"><tspan x="475">+</tspan><tspan x="491">EBfield()</tspan></text>
<text y="3925.5"><tspan x="475">+</tspan><tspan x="491">apply()</tspan></text>
<text y="3945.5"><tspan x="475">+</tspan><tspan x="491">apply()</tspan></text>
<text y="3965.5"><tspan x="475">+</tspan><tspan x="491">apply()</tspan></text>
<text y="3985.5"><tspan x="475">+</tspan><tspan x="491">applyToReferenceParticle()</tspan></text>
<text y="4005.5"><tspan x="475">+</tspan><tspan x="491">getPotential()</tspan></text>
<text y="4025.5"><tspan x="475">+</tspan><tspan x="491">getDesignEnergy()</tspan></text>
<text y="4045.5"><tspan x="475">+</tspan><tspan x="491">setDesignEnergy()</tspan></text>
<text y="4065.5"><tspan x="475">+</tspan><tspan x="491">initialise()</tspan></text>
<text x="491" y="4085.5">and 11 more...</text>
</g>

<g id="Drift">
<rect class="drift" x="442" y="4142" width="249" height="345"/>
<text class="t" x="566.5" y="4158.5">Drift</text>
<line class="sep" x1="442" y1="4165" x2="691" y2="4165"/>
<line class="sep" x1="442" y1="4205" x2="691" y2="4205"/>
<text y="4179.5"><tspan x="449">-</tspan><tspan x="465">startField_m</tspan></text>
<text y="4199.5"><tspan x="449">-</tspan><tspan x="465">nSlices_m</tspan></text>
<text y="4219.5"><tspan x="449">+</tspan><tspan x="465">Drift()</tspan></text>
<text y="4239.5"><tspan x="449">+</tspan><tspan x="465">Drift()</tspan></text>
<text y="4259.5"><tspan x="449">+</tspan><tspan x="465">Drift()</tspan></text>
<text y="4279.5"><tspan x="449">+</tspan><tspan x="465">~Drift()</tspan></text>
<text y="4299.5"><tspan x="449">+</tspan><tspan x="465">accept()</tspan></text>
<text y="4319.5"><tspan x="449">+</tspan><tspan x="465">initialise()</tspan></text>
<text y="4339.5"><tspan x="449">+</tspan><tspan x="465">finalise()</tspan></text>
<text y="4359.5"><tspan x="449">+</tspan><tspan x="465">bends()</tspan></text>
<text y="4379.5"><tspan x="449">+</tspan><tspan x="465">getType()</tspan></text>
<text y="4399.5"><tspan x="449">+</tspan><tspan x="465">getFieldExtend()</tspan></text>
<text y="4419.5"><tspan x="449">+</tspan><tspan x="465">setNSlices()</tspan></text>
<text y="4439.5"><tspan x="449">+</tspan><tspan x="465">getNSlices()</tspan></text>
<text y="4459.5"><tspan x="449">+</tspan><tspan x="465">getRequiredNumberOfTimeSteps()</tspan></text>
<text y="4479.5"><tspan x="449">-</tspan><tspan x="465">operator=()</tspan></text>
</g>
</svg>
